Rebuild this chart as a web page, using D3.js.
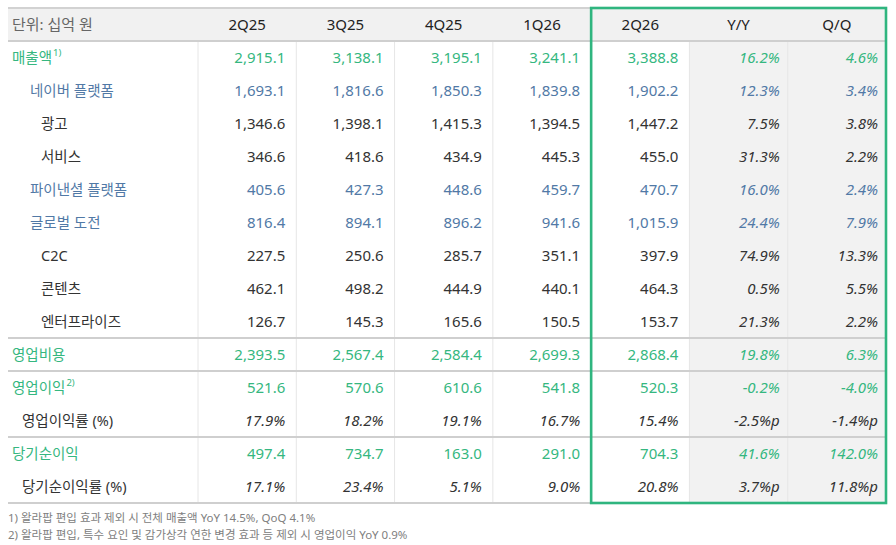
<!DOCTYPE html>
<html>
<head>
<meta charset="utf-8">
<script src="https://cdn.jsdelivr.net/npm/d3@7"></script>
<style>
  body { margin: 0; background: #fff; }
  text { font-family: "Noto Sans", "Noto Sans CJK KR", sans-serif; }
</style>
</head>
<body>
<div id="vis"></div>
<script>
// table data
let headers = ['2Q25', '3Q25', '4Q25', '1Q26', '2Q26', 'Y/Y', 'Q/Q'];
let labels = ['매출액', '네이버 플랫폼', '광고', '서비스', '파이낸셜 플랫폼', '글로벌 도전', 'C2C', '콘텐츠', '엔터프라이즈',
  '영업비용', '영업이익', '영업이익률 (%)', '당기순이익', '당기순이익률 (%)'];
let notes = ['1)', '', '', '', '', '', '', '', '', '', '2)', '', '', ''];
// 0 = green total, 1 = blue segment, 2 = sub item, 3 = ratio
let levels = [0, 1, 2, 2, 1, 1, 2, 2, 2, 0, 0, 3, 0, 3];

let q2Q25 = ['2,915.1', '1,693.1', '1,346.6', '346.6', '405.6', '816.4', '227.5', '462.1', '126.7', '2,393.5', '521.6', '17.9%', '497.4', '17.1%'];
let q3Q25 = ['3,138.1', '1,816.6', '1,398.1', '418.6', '427.3', '894.1', '250.6', '498.2', '145.3', '2,567.4', '570.6', '18.2%', '734.7', '23.4%'];
let q4Q25 = ['3,195.1', '1,850.3', '1,415.3', '434.9', '448.6', '896.2', '285.7', '444.9', '165.6', '2,584.4', '610.6', '19.1%', '163.0', '5.1%'];
let q1Q26 = ['3,241.1', '1,839.8', '1,394.5', '445.3', '459.7', '941.6', '351.1', '440.1', '150.5', '2,699.3', '541.8', '16.7%', '291.0', '9.0%'];
let q2Q26 = ['3,388.8', '1,902.2', '1,447.2', '455.0', '470.7', '1,015.9', '397.9', '464.3', '153.7', '2,868.4', '520.3', '15.4%', '704.3', '20.8%'];
let yoy = ['16.2%', '12.3%', '7.5%', '31.3%', '16.0%', '24.4%', '74.9%', '0.5%', '21.3%', '19.8%', '-0.2%', '-2.5%p', '41.6%', '3.7%p'];
let qoq = ['4.6%', '3.4%', '3.8%', '2.2%', '2.4%', '7.9%', '13.3%', '5.5%', '2.2%', '6.3%', '-4.0%', '-1.4%p', '142.0%', '11.8%p'];
let columns = [q2Q25, q3Q25, q4Q25, q1Q26, q2Q26, yoy, qoq];

let footnotes = [
  '1) 왈라팝 편입 효과 제외 시 전체 매출액 YoY 14.5%, QoQ 4.1%',
  '2) 왈라팝 편입, 특수 요인 및 감가상각 연한 변경 효과 등 제외 시 영업이익 YoY 0.9%'
];

let width = 896, height = 545;
let tLeft = 8, tRight = 886, tTop = 8, headH = 33, labelW = 190;

let green = '#35b780', blue = '#5179a6', dark = '#333';
let rowColor = [green, blue, dark, dark];
let indent = [4, 22, 33, 14];

let svg = d3.select('#vis')
  .append('svg')
  .attr('width', width)
  .attr('height', height)
  .attr('viewBox', [0, 0, width, height].join(' '));

let x = d3.scaleBand()
  .domain(headers)
  .range([tLeft + labelW, tRight]);

let y = d3.scaleBand()
  .domain(d3.range(labels.length))
  .range([tTop + headH, tTop + headH + 33 * labels.length]);

let bodyTop = tTop + headH, bodyBottom = y.range()[1];

// header band
svg.append('rect')
  .attr('x', tLeft).attr('y', tTop)
  .attr('width', tRight - tLeft).attr('height', headH)
  .attr('fill', '#f1f1f1');

// grey background for growth columns
svg.selectAll('.growth')
  .data(['Y/Y', 'Q/Q'])
  .join('rect')
  .attr('x', d => x(d)).attr('y', bodyTop)
  .attr('width', x.bandwidth()).attr('height', bodyBottom - bodyTop)
  .attr('fill', '#f2f2f2');

// column dividers
svg.selectAll('.vline')
  .data(headers)
  .join('line')
  .attr('x1', d => x(d)).attr('x2', d => x(d))
  .attr('y1', bodyTop).attr('y2', bodyBottom)
  .attr('stroke', '#e6e6e6')
  .attr('stroke-width', 1);

// horizontal rules
svg.append('line')
  .attr('x1', tLeft).attr('x2', tRight)
  .attr('y1', tTop).attr('y2', tTop)
  .attr('stroke', '#d2d2d2').attr('stroke-width', 2);

let rules = [bodyTop, y(9), y(10), y(12), bodyBottom];
svg.selectAll('.hrule')
  .data(rules)
  .join('line')
  .attr('x1', tLeft).attr('x2', tRight)
  .attr('y1', d => d).attr('y2', d => d)
  .attr('stroke', '#cfcfcf')
  .attr('stroke-width', 2);

// header text
svg.append('text')
  .attr('x', tLeft + 4).attr('y', tTop + headH / 2)
  .attr('dy', '0.35em')
  .attr('font-size', 15)
  .attr('fill', '#666')
  .text('단위: 십억 원');

svg.selectAll('.head')
  .data(headers)
  .join('text')
  .attr('x', d => x(d) + x.bandwidth() / 2)
  .attr('y', tTop + headH / 2)
  .attr('dy', '0.35em')
  .attr('text-anchor', 'middle')
  .attr('font-size', 15)
  .attr('fill', '#222')
  .text(d => d);

// row labels
let lab = svg.selectAll('.label')
  .data(labels)
  .join('text')
  .attr('x', (d, i) => tLeft + indent[levels[i]])
  .attr('y', (d, i) => y(i) + y.bandwidth() / 2)
  .attr('dy', '0.35em')
  .attr('font-size', 14.5)
  .attr('fill', (d, i) => rowColor[levels[i]]);

lab.append('tspan').text(d => d);
lab.append('tspan')
  .attr('font-size', 9.5)
  .attr('dy', '-0.7em')
  .attr('dx', 1)
  .text((d, i) => notes[i]);

// cell values
columns.forEach((col, c) => {
  let h = headers[c];
  let pad = c >= 5 ? 8 : 11;
  svg.selectAll('.cell' + c)
    .data(col)
    .join('text')
    .attr('x', x(h) + x.bandwidth() - pad)
    .attr('y', (d, i) => y(i) + y.bandwidth() / 2)
    .attr('dy', '0.35em')
    .attr('text-anchor', 'end')
    .attr('font-size', 15)
    .attr('font-style', (d, i) => (c >= 5 || levels[i] == 3) ? 'italic' : 'normal')
    .attr('fill', (d, i) => rowColor[levels[i]])
    .text(d => d);
});

// highlight box around the current quarter
svg.append('rect')
  .attr('x', x('2Q26')).attr('y', tTop)
  .attr('width', tRight - x('2Q26'))
  .attr('height', bodyBottom - tTop)
  .attr('fill', 'none')
  .attr('stroke', '#2fb57f')
  .attr('stroke-width', 2.6);

// footnotes
svg.selectAll('.foot')
  .data(footnotes)
  .join('text')
  .attr('x', tLeft)
  .attr('y', (d, i) => 518 + i * 16.5)
  .attr('dy', '0.35em')
  .attr('font-size', 11.5)
  .attr('fill', '#808080')
  .text(d => d);
</script>
</body>
</html>
